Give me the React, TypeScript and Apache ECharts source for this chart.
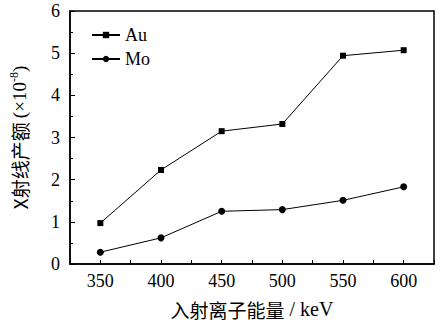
import React, { useEffect, useRef } from "react";
import * as echarts from "echarts";

const energies = [350, 400, 450, 500, 550, 600];
const auValues = [0.97, 2.23, 3.15, 3.32, 4.94, 5.07];
const moValues = [0.28, 0.62, 1.25, 1.29, 1.51, 1.83];
const seriesNames = ["Au", "Mo"];
const xAxisName = "入射离子能量{l| / keV}";
const yAxisName = "X射线产额 {l|(×10}{sup|-8}{l|)}";

const FONT = "serif";
const CJK_FONT = "Noto Sans CJK SC";

export default function App() {
  const ref = useRef<HTMLDivElement>(null);
  useEffect(() => {
    if (!ref.current) return;
    const chart = echarts.init(ref.current, undefined, { renderer: "svg" });
    chart.setOption({
      animation: false,
      backgroundColor: "#fff",
      textStyle: { fontFamily: FONT },
      grid: {
        left: 70,
        top: 11,
        right: 6,
        bottom: 65,
        show: true,
        borderColor: "#000",
        borderWidth: 1.5,
      },
      legend: {
        left: 86,
        top: 21,
        orient: "vertical",
        itemGap: 6,
        itemWidth: 28,
        itemHeight: 8,
        textStyle: { fontFamily: FONT, fontSize: 18, color: "#000" },
        data: seriesNames,
      },
      xAxis: {
        type: "value",
        min: 325,
        max: 625,
        interval: 25,
        name: xAxisName,
        nameLocation: "middle",
        nameGap: 35,
        nameTextStyle: {
          fontFamily: CJK_FONT,
          fontSize: 19,
          color: "#000",
          rich: { l: { fontFamily: FONT, fontSize: 20, color: "#000" } },
        },
        axisLine: { show: true, lineStyle: { color: "#000", width: 1.5 } },
        axisTick: { show: true, inside: true, length: 4, lineStyle: { color: "#000" } },
        splitLine: { show: false },
        axisLabel: {
          fontFamily: FONT,
          fontSize: 18,
          color: "#000",
          margin: 8,
          formatter: (v: number) => (v % 50 === 0 && v >= 350 && v <= 600 ? "{n|" + v + "}" : ""),
          rich: { n: { fontFamily: FONT, fontSize: 18, color: "#000" } },
        },
      },
      yAxis: {
        type: "value",
        min: 0,
        max: 6,
        interval: 1,
        name: yAxisName,
        nameLocation: "middle",
        nameRotate: 90,
        nameGap: 40,
        nameTextStyle: {
          fontFamily: CJK_FONT,
          fontSize: 19,
          color: "#000",
          rich: {
            l: { fontFamily: FONT, fontSize: 19, color: "#000" },
            sup: { fontFamily: FONT, fontSize: 12, color: "#000", verticalAlign: "top", padding: [0, 0, 10, 0] },
          },
        },
        axisLine: { show: true, lineStyle: { color: "#000", width: 1.5 } },
        axisTick: { show: true, inside: true, length: 5, lineStyle: { color: "#000" } },
        minorTick: { show: true, splitNumber: 2, length: 3, lineStyle: { color: "#000" } },
        splitLine: { show: false },
        axisLabel: {
          fontFamily: FONT,
          fontSize: 18,
          color: "#000",
          margin: 10,
          formatter: (v: number) => "{n|" + v + "}",
          rich: { n: { fontFamily: FONT, fontSize: 18, color: "#000" } },
        },
      },
      series: [
        {
          name: seriesNames[0],
          type: "line",
          data: energies.map((e, i) => [e, auValues[i]]),
          symbol: "rect",
          symbolSize: 6,
          lineStyle: { color: "#000", width: 1 },
          itemStyle: { color: "#000" },
        },
        {
          name: seriesNames[1],
          type: "line",
          data: energies.map((e, i) => [e, moValues[i]]),
          symbol: "circle",
          symbolSize: 7,
          lineStyle: { color: "#000", width: 1 },
          itemStyle: { color: "#000" },
        },
      ],
    });
    return () => chart.dispose();
  }, []);
  return (
    <div
      ref={ref}
      style={{ position: "absolute", left: 0, top: 0, width: 440, height: 329 }}
    />
  );
}
